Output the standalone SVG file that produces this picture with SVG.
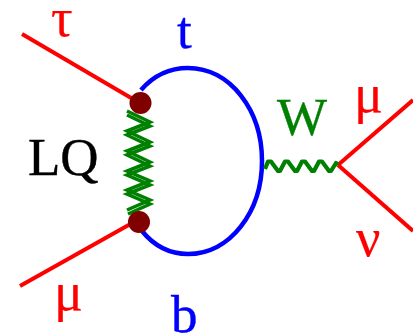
<svg xmlns="http://www.w3.org/2000/svg" width="413" height="333" viewBox="0 0 413 333">
<style>
text{font-family:"Liberation Serif","Times New Roman",serif}
.r{fill:#f00;font-size:54px;stroke:#f00;stroke-width:.2}.b{fill:#00f;font-size:53px;stroke:#00f;stroke-width:.4}
.f{fill:none;stroke:#f00;stroke-width:4;stroke-linecap:butt}
.s{fill:none;stroke:#008000;stroke-width:3.5;stroke-linejoin:miter}
.v{fill:#800000}
</style>
<rect width="413" height="333" fill="#fff"/>
<g id="connectors">
<path id="loop" d="M141 90C155 74 170 68 188 68C230 68 262 110 262 161C262 212 230 254 188 254C170 254 155 247 142 231" fill="none" stroke="#00f" stroke-width="4.500"/>
<path class="f" d="M22 34L138 102"/>
<path class="f" d="M20 286L134 222"/>
<path class="f" d="M338 165L413 100"/>
<path class="f" d="M338 165L413 231"/>
<path class="s" d="M127 111L150 122L127 131L150 142L127 151L150 162L127 171L150 181L127 190L150 200L127 210"/>
<path class="s" d="M127 115L150 126L127 135L150 146L127 155L150 166L127 175L150 185L127 194L150 204L128 214"/>
<path d="M265 169L268 161.500L271 161.500L278 171L280 171L285 161.500L288 161.500L295 171L297 171L302 161.500L305 161.500L312 171L314 171L319 161.500L322 161.500L329 171L331 171L336 163L338 165" fill="none" stroke="#008000" stroke-width="4.200" stroke-linejoin="round"/>
</g>
<g id="vertex-top"><circle class="v" cx="140.500" cy="103" r="11"/></g>
<g id="vertex-bottom"><circle class="v" cx="139" cy="222" r="11"/></g>
<g id="label-tau"><text class="r" x="51" y="36">τ</text></g>
<g id="label-t"><text class="b" x="177" y="48">t</text></g>
<g id="label-lq"><text x="28" y="175" font-size="53" stroke="#000" stroke-width=".4">LQ</text></g>
<g id="label-mu-bottom"><text class="r" x="54" y="310">μ</text></g>
<g id="label-b"><text class="b" x="171" y="332">b</text></g>
<g id="label-w"><text x="277" y="135" font-size="53" fill="#008000" stroke="#008000" stroke-width=".4">W</text></g>
<g id="label-mu-right"><text class="r" x="354" y="112">μ</text></g>
<g id="label-nu"><text class="r" x="356" y="256">ν</text></g>
</svg>
